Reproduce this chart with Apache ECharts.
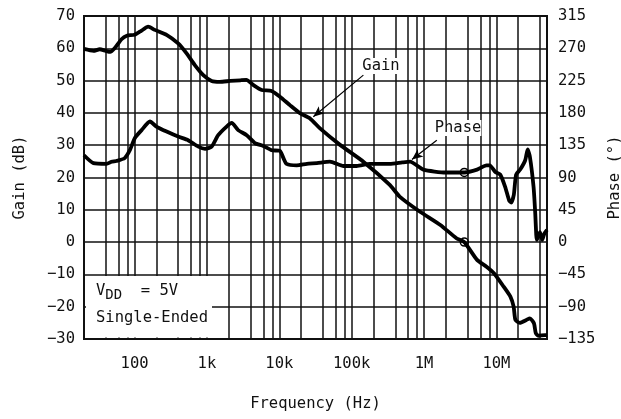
<!DOCTYPE html>
<html>
<head>
<meta charset="utf-8">
<script src="https://cdn.jsdelivr.net/npm/echarts@6/dist/echarts.min.js"></script>
<style>
  html, body { margin: 0; padding: 0; background: #fff; }
  #chart { width: 621px; height: 419px; }
</style>
</head>
<body>
<div id="chart"></div>
<script>
// gain curve (Hz, dB)
var gainFreq = [20, 27, 33, 40, 46, 53, 66, 78, 100, 125, 154, 190, 280, 400, 520, 680, 890, 1160, 1500, 2100, 2900, 3500, 4400, 5700, 7800, 10200, 14000, 19300, 26500, 36500, 69000, 145000, 336000, 460000, 880000, 1.68e6, 2.8e6, 3.6e6, 5.4e6, 7.3e6, 9.3e6, 1.26e7, 1.56e7, 1.73e7, 1.83e7, 2.1e7, 2.6e7, 2.9e7, 3.3e7, 3.5e7, 3.8e7, 4.7e7, 5e7];
var gainDb = [59.8, 59.2, 59.7, 59.2, 58.9, 60, 62.8, 63.9, 64.2, 65.5, 66.7, 65.7, 64.1, 61.5, 58.5, 54.8, 51.7, 49.9, 49.6, 49.9, 50.1, 50.2, 48.6, 47.1, 46.8, 45.0, 42.4, 39.9, 38.3, 35.2, 30.1, 24.9, 17.7, 14.1, 9.4, 5.3, 1.2, 0, -5.5, -7.6, -9.7, -13.8, -16.9, -20, -24.1, -25, -24.1, -23.6, -25.1, -28.2, -29, -28.8, -28.8];

// phase curve (Hz, degrees)
var phaseFreq = [20, 27, 41, 48, 56, 73, 86, 101, 125, 163, 200, 277, 400, 550, 760, 940, 1160, 1430, 1870, 2200, 2700, 3540, 4600, 6000, 7850, 10200, 11400, 12600, 17400, 24000, 33000, 50000, 77000, 117000, 178000, 336000, 500000, 640000, 980000, 2e6, 3.6e6, 5.4e6, 7.3e6, 8.1e6, 9.6e6, 1.13e7, 1.32e7, 1.5e7, 1.6e7, 1.74e7, 1.87e7, 2.13e7, 2.5e7, 2.7e7, 2.9e7, 3.26e7, 3.44e7, 3.55e7, 3.62e7, 4.0e7, 4.3e7, 4.6e7, 5e7];
var phaseDeg = [121, 110, 109, 112, 113, 117, 128, 145, 156, 168, 161, 154, 147, 142, 133, 130, 133, 149, 161, 166, 156, 149, 138, 134, 128, 127, 117, 109, 107, 109, 110, 112, 106, 106, 109, 109, 111, 112, 101, 97, 97, 101, 107, 107, 98, 94, 77, 58, 55, 66, 94, 101, 114, 129, 119, 77, 40, 10, 3, 14, 3, 12, 17];

var decadeTicks = [100, 1e3, 1e4, 1e5, 1e6, 1e7];
var decadeLabels = ['100', '1k', '10k', '100k', '1M', '10M'];
// vertical grid at 1,2,4,6,8 x each decade
var gridFreqs = [40, 60, 80, 100, 200, 400, 600, 800, 1e3, 2e3, 4e3, 6e3, 8e3, 1e4, 2e4, 4e4, 6e4, 8e4,
  1e5, 2e5, 4e5, 6e5, 8e5, 1e6, 2e6, 4e6, 6e6, 8e6, 1e7, 2e7, 4e7];

var crossFreq = 3.6e6;
var crossPhase = 97;

var FONT = 'DejaVu Sans Mono';
var INK = '#111';

function pairs(xs, ys) {
  return xs.map(function (x, i) { return [x, ys[i]]; });
}
function minus(v) {
  return String(v).replace('-', '\u2212');
}

var chart = echarts.init(document.getElementById('chart'));

chart.setOption({
  animation: false,
  backgroundColor: '#fff',
  textStyle: { fontFamily: FONT },
  grid: {
    left: 84, right: 74, top: 16, bottom: 80,
    outerBoundsMode: 'none',
    containLabel: false,
    show: true, borderColor: INK, borderWidth: 2, backgroundColor: 'transparent'
  },
  xAxis: {
    type: 'log',
    logBase: 10,
    min: 20,
    max: 5e7,
    name: 'Frequency (Hz)',
    nameLocation: 'middle',
    nameGap: 57,
    nameTextStyle: { fontFamily: FONT, fontSize: 15.5, color: INK },
    axisLine: { show: false },
    axisTick: { show: false },
    splitLine: { show: false },
    axisLabel: {
      interval: 0,
      margin: 17,
      fontFamily: FONT,
      fontSize: 15.5,
      color: INK,
      showMinLabel: false,
      showMaxLabel: false,
      formatter: function (v) {
        for (var i = 0; i < decadeTicks.length; i++) {
          if (Math.abs(Math.log10(v) - Math.log10(decadeTicks[i])) < 1e-6) return decadeLabels[i];
        }
        return '';
      }
    }
  },
  yAxis: [{
    type: 'value',
    min: -30,
    max: 70,
    interval: 10,
    name: 'Gain (dB)',
    nameLocation: 'middle',
    nameRotate: 90,
    nameGap: 56,
    nameTextStyle: { fontFamily: FONT, fontSize: 15.5, color: INK },
    axisLine: { show: false },
    axisTick: { show: false },
    axisLabel: { margin: 9, fontFamily: FONT, fontSize: 15.5, color: INK, formatter: minus },
    splitLine: { show: true, lineStyle: { color: INK, width: 1.5 } }
  }, {
    type: 'value',
    min: -135,
    max: 315,
    interval: 45,
    position: 'right',
    name: 'Phase (\u00b0)',
    nameLocation: 'middle',
    nameRotate: 90,
    nameGap: 60,
    nameTextStyle: { fontFamily: FONT, fontSize: 15.5, color: INK },
    axisLine: { show: false },
    axisTick: { show: false },
    axisLabel: { margin: 11, fontFamily: FONT, fontSize: 15.5, color: INK, formatter: minus },
    splitLine: { show: false }
  }],
  series: [{
    // vertical grid lines
    type: 'line',
    data: [],
    z: 1,
    silent: true,
    markLine: {
      silent: true,
      symbol: 'none',
      animation: false,
      label: { show: false },
      lineStyle: { color: INK, width: 1.5, type: 'solid' },
      data: gridFreqs.map(function (f) { return { xAxis: f }; })
    }
  }, {
    name: 'Gain',
    type: 'line',
    yAxisIndex: 0,
    z: 5,
    showSymbol: false,
    smooth: 0.2,
    lineStyle: { color: '#000', width: 3.8 },
    data: pairs(gainFreq, gainDb),
    markPoint: {
      symbol: 'circle',
      symbolSize: 8,
      label: { show: false },
      itemStyle: { color: 'transparent', borderColor: '#000', borderWidth: 1.5 },
      data: [{ coord: [crossFreq, 0] }]
    },
    markLine: {
      silent: true,
      symbol: ['none', 'arrow'],
      symbolSize: [7, 11],
      label: { show: false },
      lineStyle: { color: '#000', width: 1.2, type: 'solid' },
      data: [[{ coord: [1.45e5, 51.7] }, { coord: [2.95e4, 38.8] }]]
    }
  }, {
    name: 'Phase',
    type: 'line',
    yAxisIndex: 1,
    z: 5,
    showSymbol: false,
    smooth: 0.2,
    lineStyle: { color: '#000', width: 3.8 },
    data: pairs(phaseFreq, phaseDeg),
    markPoint: {
      symbol: 'circle',
      symbolSize: 8,
      label: { show: false },
      itemStyle: { color: 'transparent', borderColor: '#000', borderWidth: 1.5 },
      data: [{ coord: [crossFreq, crossPhase] }]
    },
    markLine: {
      silent: true,
      symbol: ['none', 'arrow'],
      symbolSize: [7, 11],
      label: { show: false },
      lineStyle: { color: '#000', width: 1.2, type: 'solid' },
      data: [[{ coord: [1.5e6, 142] }, { coord: [6.8e5, 115] }]]
    }
  }],
  graphic: [{
    // note box in the lower left corner
    type: 'rect',
    z: 100,
    shape: { x: 86, y: 276, width: 126, height: 61.5 },
    style: { fill: '#fff' }
  }, {
    type: 'text',
    z: 101,
    left: 96,
    top: 283,
    style: {
      text: '{v|V}{s|DD}{v|  = 5V}',
      rich: {
        v: { fontFamily: FONT, fontSize: 15.5, fill: INK },
        s: { fontFamily: FONT, fontSize: 14, fill: INK, padding: [9, 0, 0, 0] }
      }
    }
  }, {
    type: 'text',
    z: 101,
    left: 96,
    top: 310,
    style: { text: 'Single-Ended', fontFamily: FONT, fontSize: 15.5, fill: INK }
  }, {
    type: 'text',
    z: 101,
    x: 381,
    y: 66,
    style: { text: 'Gain', fontFamily: FONT, fontSize: 15.5, fill: INK, align: 'center', verticalAlign: 'middle', backgroundColor: '#fff' }
  }, {
    type: 'text',
    z: 101,
    x: 458,
    y: 128,
    style: { text: 'Phase', fontFamily: FONT, fontSize: 15.5, fill: INK, align: 'center', verticalAlign: 'middle', backgroundColor: '#fff' }
  }]
});
</script>
</body>
</html>
